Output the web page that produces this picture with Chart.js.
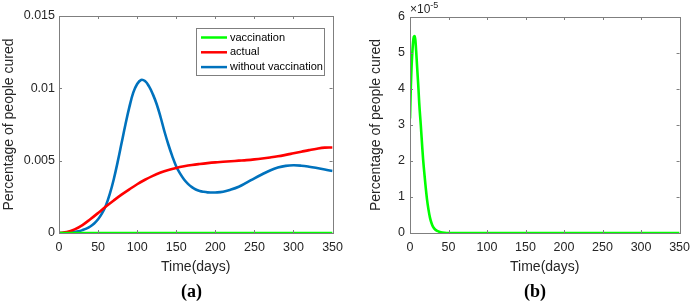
<!DOCTYPE html>
<html>
<head>
<meta charset="utf-8">
<script src="https://cdn.jsdelivr.net/npm/chart.js@4.4.1/dist/chart.umd.min.js"></script>
<style>
  html, body { margin: 0; padding: 0; background: #fff; }
  body { width: 697px; height: 304px; position: relative; overflow: hidden; font-family: "Liberation Sans", Arial, sans-serif; }
  #wa { position: absolute; left: 0; top: 0; width: 350px; height: 304px; }
  #wb { position: absolute; left: 350px; top: 0; width: 347px; height: 304px; }
  .cap { position: absolute; top: 281px; font-family: "Liberation Serif", "DejaVu Serif", serif; font-weight: bold; font-size: 18px; color: #000; }
  .exp { position: absolute; left: 410px; top: 2px; font-size: 12px; color: #262626; }
  .exp sup { font-size: 9px; position: relative; top: -2px; vertical-align: top; }
</style>
</head>
<body>
<div id="wa"><canvas id="ca" width="350" height="304"></canvas></div>
<div id="wb"><canvas id="cb" width="347" height="304"></canvas></div>
<div class="cap" style="left:181px">(a)</div>
<div class="cap" style="left:524px">(b)</div>
<div class="exp">×10<sup>-5</sup></div>
<script>
// ---------------- DATA ----------------
// (a) without vaccination
const daysBlue = [0,5,10,15,20,25,30,35,40,45,50,55,60,65,70,75,80,85,90,95,100,105,110,115,120,125,130,135,140,145,150,155,160,165,170,175,180,185,190,195,200,210,220,230,240,250,260,270,280,290,300,310,320,330,340,350];
const withoutVaccination = [0,0.000005,0.00002,0.00004,0.00007,0.00012,0.0002,0.0003,0.00045,0.00066,0.00095,0.00135,0.0019,0.0027,0.0037,0.0049,0.0062,0.0075,0.0087,0.0097,0.0103,0.01058,0.0105,0.01015,0.0096,0.0089,0.008,0.007,0.0061,0.0053,0.0046,0.0041,0.0037,0.0034,0.00317,0.00301,0.00291,0.00285,0.00281,0.0028,0.0028,0.00285,0.003,0.0032,0.00348,0.00378,0.00406,0.00432,0.00452,0.00464,0.00468,0.00465,0.00458,0.00449,0.00439,0.00428];
// (a) actual
const daysRed = [0,10,20,30,40,50,60,70,80,90,100,110,120,130,140,150,160,170,180,190,200,210,220,230,240,250,260,270,280,290,300,310,320,330,340,350];
const actual = [0,0.00006,0.00025,0.00055,0.00095,0.00138,0.00183,0.00225,0.00265,0.00302,0.00337,0.00368,0.00395,0.00418,0.00436,0.0045,0.00461,0.0047,0.00477,0.00483,0.00488,0.00492,0.00496,0.005,0.00504,0.00509,0.00515,0.00522,0.0053,0.0054,0.00551,0.00562,0.00573,0.00583,0.0059,0.00591];
// (a) vaccination
const daysGreenA = [0,350];
const vaccinationA = [0,0];

// (b) vaccination (×10^-5)
const daysB = [0,1,2,3,4,5,6,7,8,9,10,11,12,14,16,17,18,20,22,24,26,28,30,33,36,40,45,50,100,150,200,250,300,350];
const vaccinationB = [3.18,4.0,4.6,5.0,5.3,5.45,5.47,5.35,5.05,4.7,4.35,4.0,3.6,3.0,2.35,2.05,1.8,1.35,0.95,0.65,0.42,0.27,0.17,0.09,0.05,0.02,0.005,0,0,0,0,0,0,0];

const xTicks = [0,50,100,150,200,250,300,350];
const yTicksA = [0,0.005,0.01,0.015];
const yTicksB = [0,1,2,3,4,5,6];
const seriesNames = ['vaccination','actual','without vaccination'];
const seriesColors = ['#00ff00','#ff0000','#0072bd'];
// --------------------------------------

const AXIS = '#7f7f7f';
const TXT = '#262626';
const FONT = '"Liberation Sans", Arial, sans-serif';

function pts(xs, ys) { return xs.map((x, i) => ({x: x, y: ys[i]})); }

const boxTicks = {
  id: 'boxTicks',
  afterDatasetsDraw(chart) {
    const {ctx, chartArea: a, scales} = chart;
    ctx.save();
    ctx.strokeStyle = AXIS;
    ctx.lineWidth = 1;
    ctx.strokeRect(Math.round(a.left) + 0.5, Math.round(a.top) + 0.5, Math.round(a.right - a.left), Math.round(a.bottom - a.top));
    const L = 3;
    ctx.beginPath();
    scales.x.ticks.forEach(t => {
      const px = Math.round(scales.x.getPixelForValue(t.value)) + 0.5;
      ctx.moveTo(px, a.bottom); ctx.lineTo(px, a.bottom - L);
      ctx.moveTo(px, a.top); ctx.lineTo(px, a.top + L);
    });
    scales.y.ticks.forEach(t => {
      const py = Math.round(scales.y.getPixelForValue(t.value)) + 0.5;
      ctx.moveTo(a.left, py); ctx.lineTo(a.left + L, py);
      ctx.moveTo(a.right, py); ctx.lineTo(a.right - L, py);
    });
    ctx.stroke();
    ctx.restore();
  }
};

const innerLegend = {
  id: 'innerLegend',
  afterDatasetsDraw(chart, args, opts) {
    if (!opts.show) return;
    const {ctx} = chart;
    const x0 = 196, y0 = 28, w = 128, h = 47;
    ctx.save();
    ctx.fillStyle = '#fff';
    ctx.fillRect(x0, y0, w, h);
    ctx.strokeStyle = AXIS;
    ctx.lineWidth = 1;
    ctx.strokeRect(x0 + 0.5, y0 + 0.5, w, h);
    ctx.font = '11px ' + FONT;
    ctx.textBaseline = 'middle';
    chart.data.datasets.forEach((ds, i) => {
      const y = y0 + 9.5 + i * 14.8;
      ctx.strokeStyle = ds.borderColor;
      ctx.lineWidth = 2.5;
      ctx.beginPath();
      ctx.moveTo(x0 + 5, y); ctx.lineTo(x0 + 31, y);
      ctx.stroke();
      ctx.fillStyle = '#000';
      ctx.fillText(ds.label, x0 + 34, y);
    });
    ctx.restore();
  }
};

function makeOpts(cfg) {
  return {
    responsive: false,
    animation: false,
    devicePixelRatio: 1,
    layout: { padding: { left: 0, right: cfg.padRight, top: cfg.padTop, bottom: 0 } },
    plugins: { legend: { display: false }, tooltip: { enabled: false }, innerLegend: { show: cfg.legend } },
    elements: { point: { radius: 0 }, line: { borderWidth: 2.6, tension: 0.4, cubicInterpolationMode: cfg.interp } },
    scales: {
      x: {
        type: 'linear', min: 0, max: 350,
        afterBuildTicks: s => { s.ticks = xTicks.map(v => ({value: v})); },
        afterFit: s => { s.height = 304 - cfg.bottom; },
        grid: { display: false, drawTicks: false },
        border: { display: false },
        ticks: { padding: 7, color: TXT, font: { family: FONT, size: 12.5 }, maxRotation: 0, callback: v => String(v) },
        title: { display: true, text: 'Time(days)', color: TXT, font: { family: FONT, size: 14 }, padding: { top: 0, bottom: 28.5 } }
      },
      y: {
        type: 'linear', min: cfg.yTicks[0], max: cfg.yTicks[cfg.yTicks.length - 1],
        afterBuildTicks: s => { s.ticks = cfg.yTicks.map(v => ({value: v})); },
        afterFit: s => { s.width = cfg.yWidth; },
        grid: { display: false, drawTicks: false },
        border: { display: false },
        ticks: { padding: cfg.yPad, color: TXT, font: { family: FONT, size: 12.5 }, callback: v => String(+v.toFixed(4)) },
        title: { display: true, text: 'Percentage of people cured', color: TXT, font: { family: FONT, size: 14 }, padding: { top: cfg.yTitlePad, bottom: 0 } }
      }
    }
  };
}

new Chart(document.getElementById('ca'), {
  type: 'line',
  data: {
    datasets: [
      { label: seriesNames[0], data: pts(daysGreenA, vaccinationA), borderColor: seriesColors[0] },
      { label: seriesNames[1], data: pts(daysRed, actual), borderColor: seriesColors[1] },
      { label: seriesNames[2], data: pts(daysBlue, withoutVaccination), borderColor: seriesColors[2] }
    ]
  },
  options: makeOpts({ padRight: 15, padTop: 16, bottom: 233, yWidth: 59, yPad: 4, yTitlePad: 0.6, yTicks: yTicksA, legend: true, interp: 'default' }),
  plugins: [boxTicks, innerLegend]
});

new Chart(document.getElementById('cb'), {
  type: 'line',
  data: {
    datasets: [
      { label: seriesNames[0], data: pts(daysB, vaccinationB), borderColor: seriesColors[0] }
    ]
  },
  options: makeOpts({ padRight: 10, padTop: 17, bottom: 233, yWidth: 60, yPad: 5, yTitlePad: 17.6, yTicks: yTicksB, legend: false, interp: 'monotone' }),
  plugins: [boxTicks, innerLegend]
});
</script>
</body>
</html>
